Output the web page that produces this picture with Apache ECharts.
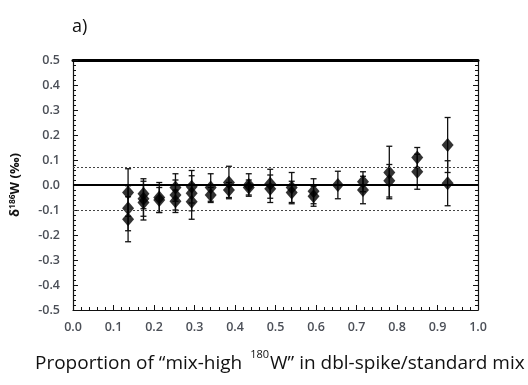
<!DOCTYPE html>
<html>
<head>
<meta charset="utf-8">
<script src="https://cdn.jsdelivr.net/npm/echarts@6/dist/echarts.min.js"></script>
<style>
  html, body { margin: 0; padding: 0; background: #ffffff; }
  #chart { width: 528px; height: 385px; }
</style>
</head>
<body>
<div id="chart"></div>
<script>
// Proportion of "mix-high 180W" in each double-spike/standard mixture (one entry per measurement)
const proportion = [
  0.136, 0.136, 0.136,
  0.174, 0.174, 0.174,
  0.213, 0.213,
  0.253, 0.253, 0.253,
  0.293, 0.293, 0.293,
  0.340, 0.340,
  0.385, 0.385,
  0.434, 0.434,
  0.487, 0.487,
  0.540, 0.540,
  0.594, 0.594,
  0.654,
  0.716, 0.716,
  0.781, 0.781,
  0.850, 0.850,
  0.925, 0.925
];
// Measured delta186W (permil)
const delta186W = [
  -0.030, -0.093, -0.137,
  -0.035, -0.055, -0.070,
  -0.050, -0.060,
  -0.010, -0.040, -0.065,
  -0.007, -0.033, -0.067,
  -0.010, -0.040,
   0.010, -0.020,
   0.000, -0.010,
   0.005, -0.015,
  -0.010, -0.030,
  -0.025, -0.045,
   0.000,
   0.013, -0.020,
   0.050,  0.017,
   0.110,  0.053,
   0.160,  0.007
];
// 2SD uncertainty on each measurement (permil)
const err2sd = [
  0.095, 0.090, 0.090,
  0.060, 0.070, 0.070,
  0.060, 0.050,
  0.055, 0.060, 0.045,
  0.065, 0.070, 0.070,
  0.055, 0.030,
  0.065, 0.030,
  0.045, 0.030,
  0.058, 0.055,
  0.060, 0.045,
  0.050, 0.040,
  0.055,
  0.040, 0.055,
  0.105, 0.065,
  0.040, 0.070,
  0.110, 0.090
];
// Long-term reproducibility band and reference value
const reproUpper = 0.07;
const reproLower = -0.095;
const referenceValue = 0;

const xTickLabels = ['0.0','0.1','0.2','0.3','0.4','0.5','0.6','0.7','0.8','0.9','1.0'];
const yTickLabels = ['-0.5','-0.4','-0.3','-0.2','-0.1','0.0','0.1','0.2','0.3','0.4','0.5'];

const points = proportion.map((x, i) => [x, delta186W[i]]);
const bars = proportion.map((x, i) => [x, delta186W[i] - err2sd[i], delta186W[i] + err2sd[i]]);

const labelFont = { color: '#4b4f57', fontFamily: 'Open Sans', fontWeight: 600, fontSize: 12.5 };

const chart = echarts.init(document.getElementById('chart'), null, { renderer: 'canvas' });

chart.setOption({
  animation: false,
  backgroundColor: '#ffffff',
  title: [
    { text: 'a)', left: 67, top: 13, textStyle: { fontFamily: 'Open Sans', fontSize: 18, fontWeight: 'normal', color: '#111' } },
    {
      text: '{m|Proportion of \u201cmix-high }{s|180}{m|W\u201d in dbl-spike/standard mix}',
      left: 30, top: 344,
      textStyle: {
        fontWeight: 'normal',
        rich: {
          m: { fontFamily: 'Open Sans', fontSize: 19, fontWeight: 'normal', color: '#111', verticalAlign: 'bottom' },
          s: { fontFamily: 'Open Sans', fontSize: 11, fontWeight: 'normal', color: '#111', verticalAlign: 'top', padding: [0, 1, 13, 3] }
        }
      }
    }
  ],
  grid: { left: 68, right: 50, top: 60, bottom: 75 },
  xAxis: [
    {
      type: 'value', min: 0, max: 1, interval: 0.1, position: 'bottom',
      axisLine: { onZero: false, lineStyle: { color: '#111', width: 1.2 } },
      axisTick: { inside: true, length: 5, lineStyle: { color: '#111' } },
      minorTick: { show: true, splitNumber: 5, length: 3, lineStyle: { color: '#111' } },
      splitLine: { show: false },
      axisLabel: Object.assign({ margin: 11, formatter: (v) => xTickLabels[Math.round(v * 10)] }, labelFont)
    },
    {
      type: 'value', min: 0, max: 1, position: 'top',
      axisLine: { onZero: false, lineStyle: { color: '#000', width: 3 } },
      axisTick: { show: false }, axisLabel: { show: false }, splitLine: { show: false }
    }
  ],
  yAxis: [
    {
      type: 'value', min: -0.5, max: 0.5, interval: 0.1, position: 'left',
      name: '{b|\u03b4}{s|186}{b|W (\u2030)}',
      nameLocation: 'middle', nameGap: 50, nameRotate: 90,
      nameTextStyle: {
        rich: {
          b: { fontFamily: 'Open Sans', fontWeight: 'bold', fontSize: 13, color: '#111' },
          s: { fontFamily: 'Open Sans', fontWeight: 'bold', fontSize: 8.5, color: '#111', verticalAlign: 'top', padding: [0, 0, 6, 0] }
        }
      },
      axisLine: { onZero: false, lineStyle: { color: '#111', width: 1.2 } },
      axisTick: { inside: true, length: 5, lineStyle: { color: '#111' } },
      minorTick: { show: true, splitNumber: 5, length: 3, lineStyle: { color: '#111' } },
      splitLine: { show: false },
      axisLabel: Object.assign({ margin: 13, formatter: (v) => yTickLabels[Math.round(v * 10) + 5] }, labelFont)
    },
    {
      type: 'value', min: -0.5, max: 0.5, interval: 0.1, position: 'right',
      axisLine: { onZero: false, lineStyle: { color: '#111', width: 1.2 } },
      axisTick: { inside: true, length: 5, lineStyle: { color: '#111' } },
      minorTick: { show: true, splitNumber: 5, length: 3, lineStyle: { color: '#111' } },
      splitLine: { show: false },
      axisLabel: { show: false }
    }
  ],
  series: [
    {
      type: 'line', data: [], silent: true,
      markLine: {
        symbol: 'none', silent: true, label: { show: false },
        data: [
          { yAxis: referenceValue, lineStyle: { color: '#000', width: 2, type: 'solid' } },
          { yAxis: reproUpper, lineStyle: { color: '#444', width: 1, type: [2, 2] } },
          { yAxis: reproLower, lineStyle: { color: '#444', width: 1, type: [2, 2] } }
        ]
      }
    },
    {
      type: 'custom',
      data: bars,
      encode: { x: 0, y: [1, 2] },
      renderItem: function (params, api) {
        const x = api.value(0);
        const lo = api.coord([x, api.value(1)]);
        const hi = api.coord([x, api.value(2)]);
        const cap = 3;
        const style = { stroke: '#111', lineWidth: 1.3 };
        return {
          type: 'group',
          children: [
            { type: 'line', shape: { x1: lo[0], y1: lo[1], x2: hi[0], y2: hi[1] }, style: style },
            { type: 'line', shape: { x1: lo[0] - cap, y1: lo[1], x2: lo[0] + cap, y2: lo[1] }, style: style },
            { type: 'line', shape: { x1: hi[0] - cap, y1: hi[1], x2: hi[0] + cap, y2: hi[1] }, style: style }
          ]
        };
      },
      z: 3
    },
    {
      type: 'scatter',
      data: points,
      symbol: 'diamond',
      symbolSize: [12, 14],
      itemStyle: { color: '#000' },
      z: 4
    }
  ]
});
</script>
</body>
</html>
